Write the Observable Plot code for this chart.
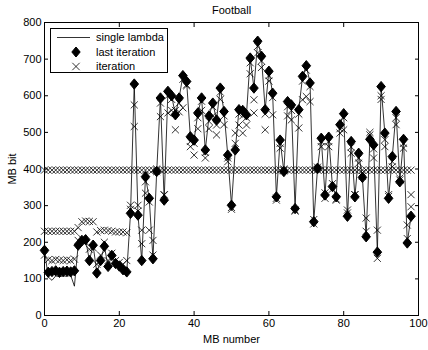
<!DOCTYPE html>
<html>
<head>
<meta charset="utf-8">
<script src="https://cdn.jsdelivr.net/npm/d3@7"></script>
<script src="https://cdn.jsdelivr.net/npm/@observablehq/plot@0.6"></script>
<style>
  body { margin: 0; background: #fff; }
  #wrap { position: relative; width: 428px; height: 350px; font-family: "Liberation Sans", Arial, sans-serif; }
  #legend { position: absolute; left: 50px; top: 28px; }
</style>
</head>
<body>
<div id="wrap"></div>
<script>
// ---- data ----
const title = "Football";
const xLabel = "MB number";
const yLabel = "MB bit";
const xTicks = [0, 20, 40, 60, 80, 100];
const yTicks = [0, 100, 200, 300, 400, 500, 600, 700, 800];
const seriesNames = ["single lambda", "last iteration", "iteration"];

const singleLambda = [178,105,96,108,106,108,107,110,80,192, 205,207,150,192,116,150,189,134,164,142,
  135,125,119,279,632,274,150,379,320,155, 393,594,315,612,600,548,594,655,639,488,
  479,553,594,452,545,580,534,621,557,438, 301,452,562,560,548,703,621,749,708,562,
  667,607,324,479,393,584,575,292,562,653, 682,635,256,402,484,329,487,352,324,521,
  551,271,475,324,443,377,215,481,466,173, 625,498,320,434,557,365,481,198,271];

const lastIteration = [178,118,120,122,118,120,121,119,122,192, 205,207,150,192,116,150,189,134,164,142,
  135,125,119,279,632,274,150,379,320,155, 393,594,315,612,600,548,594,655,639,488,
  479,553,594,452,545,580,534,621,557,438, 301,452,562,560,548,703,621,749,708,562,
  667,607,324,479,393,584,575,292,562,653, 682,635,256,402,484,329,487,352,324,521,
  551,271,475,324,443,377,215,481,466,173, 625,498,320,434,557,365,481,198,271];

const iteration1 = [397,397,397,397,397,397,397,397,397,397, 397,397,397,397,397,397,397,397,397,397,
  397,397,397,397,397,397,397,397,397,397, 397,397,397,397,397,397,397,397,397,397,
  397,397,397,397,397,397,397,397,397,397, 397,397,397,397,397,397,397,397,397,397,
  397,397,397,397,397,397,397,397,397,397, 397,397,397,397,397,397,397,397,397,397,
  397,397,397,397,397,397,397,397,397,397, 397,397,397,397,397,397,397,397,397];

const iteration2 = [230,230,230,230,230,230,230,230,230,240, 256,258,257,256,228,232,233,232,230,228,
  228,228,226,301,516,301,196,334,233,205, 393,543,329,553,560,507,556,567,627,461,
  438,510,560,430,510,545,493,590,521,420, 290,498,520,498,520,660,553,717,677,507,
  640,548,315,457,395,545,534,285,512,589, 598,584,250,400,461,320,461,345,315,498,
  507,288,443,330,416,380,266,493,430,156, 590,461,325,406,521,375,457,247,297];

const iteration3 = [165,152,150,153,151,150,152,150,154,205, 210,200,181,185,140,165,200,150,170,150,
  145,140,150,290,575,285,233,365,310,165, 400,580,330,600,590,560,580,645,630,475,
  470,540,585,445,530,570,520,610,545,430, 295,470,550,545,540,690,589,735,695,550,
  655,595,320,470,400,570,560,288,550,640, 670,625,262,405,475,335,475,360,318,510,
  540,280,460,330,430,390,230,500,455,233, 600,480,330,420,540,370,470,210,330];

// ---- build tables ----
const toRows = arr => arr.map((v, i) => ({mb: i, v}));
const lambdaRows = toRows(singleLambda);
const lastRows = toRows(lastIteration);
const iterRows = [...toRows(iteration1), ...toRows(iteration2), ...toRows(iteration3)];

const diamond = {
  draw(ctx, size) {
    const w = Math.sqrt(size / Math.PI), h = w * 1.2;
    ctx.moveTo(0, -h); ctx.lineTo(w, 0); ctx.lineTo(0, h); ctx.lineTo(-w, 0); ctx.closePath();
  }
};

const font = "Liberation Sans, Arial, sans-serif";
const chart = Plot.plot({
  width: 428, height: 350,
  marginLeft: 44, marginRight: 10, marginTop: 22, marginBottom: 35,
  style: {fontFamily: font, fontSize: "11px", color: "#000", background: "#fff", overflow: "visible"},
  x: {domain: [0, 100]},
  y: {domain: [0, 800]},
  marks: [
    Plot.line(lambdaRows, {x: "mb", y: "v", stroke: "#000", strokeWidth: 0.8}),
    Plot.dot(iterRows, {x: "mb", y: "v", symbol: "times", r: 3.3, stroke: "#000", strokeWidth: 0.8}),
    Plot.dot(lastRows, {x: "mb", y: "v", symbol: diamond, r: 4.3, fill: "#000", stroke: "#000", strokeWidth: 1}),
    Plot.frame({stroke: "#000"}),
    Plot.axisX(xTicks, {anchor: "bottom", tickSize: -4, tickPadding: 8, label: xLabel, labelArrow: "none", labelAnchor: "center", labelOffset: 27}),
    Plot.axisX(xTicks, {anchor: "top", tickSize: -4, tickFormat: () => "", label: null}),
    Plot.axisY(yTicks, {anchor: "left", tickSize: -4, tickPadding: 7, label: yLabel, labelArrow: "none", labelAnchor: "center", labelOffset: 36}),
    Plot.axisY(yTicks, {anchor: "right", tickSize: -4, tickFormat: () => "", label: null}),
    Plot.text([title], {frameAnchor: "top", dy: -16, fontSize: 11, fill: "#000"})
  ]
});
const wrap = document.getElementById("wrap");
wrap.appendChild(chart);

// ---- legend (overlay) ----
const ns = "http://www.w3.org/2000/svg";
const lg = document.createElementNS(ns, "svg");
lg.setAttribute("id", "legend");
lg.setAttribute("width", 119);
lg.setAttribute("height", 46);
lg.style.fontFamily = font;
lg.style.fontSize = "11px";
const rowsY = [9.5, 24, 38.5];
let html = `<rect x="0.5" y="0.5" width="117" height="44" fill="#fff" stroke="#000"/>`;
html += `<line x1="7" x2="40" y1="${rowsY[0]}" y2="${rowsY[0]}" stroke="#000" stroke-width="0.8"/>`;
html += `<path d="M26,${rowsY[1]-5} L30.2,${rowsY[1]} L26,${rowsY[1]+5} L21.8,${rowsY[1]} Z" fill="#000" stroke="#000"/>`;
html += `<path d="M22.3,${rowsY[2]-3.7} L29.7,${rowsY[2]+3.7} M29.7,${rowsY[2]-3.7} L22.3,${rowsY[2]+3.7}" stroke="#000" stroke-width="0.8"/>`;
seriesNames.forEach((n, i) => {
  html += `<text x="46" y="${rowsY[i]}" dy="0.35em" fill="#000">${n}</text>`;
});
lg.innerHTML = html;
wrap.appendChild(lg);
</script>
</body>
</html>
